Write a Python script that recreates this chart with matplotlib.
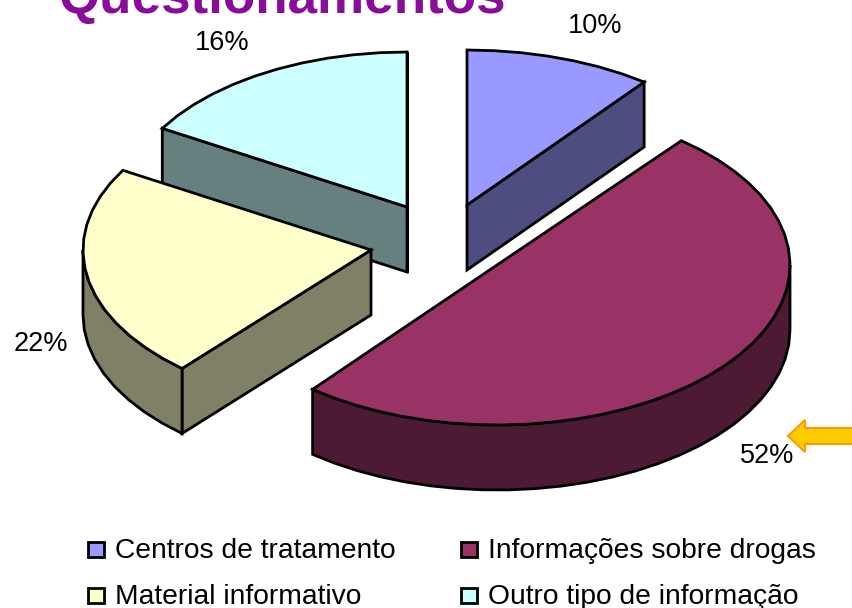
import numpy as np
import matplotlib
matplotlib.use("Agg")
import matplotlib.pyplot as plt
from matplotlib.patches import Polygon, FancyArrow

plt.rcParams['font.family'] = ['Liberation Sans', 'DejaVu Sans']

categorias = ["Centros de tratamento", "Informações sobre drogas",
              "Material informativo", "Outro tipo de informação"]
valores = [10, 52, 22, 16]
etiquetas = ["10%", "52%", "22%", "16%"]
cores_topo = ["#9999FF", "#993366", "#FFFFCC", "#CCFFFF"]
cores_lado = ["#4D4D80", "#4D1A33", "#808066", "#668080"]

# centro e raios de cada fatia explodida (em pixels da imagem)
centros = [(467, 205), (497, 265), (371, 250), (407, 207)]
raios_x = [291, 293, 288, 284]
raios_y = [155, 160, 157, 155]
# desvio de perspectiva do angulo inicial e final de cada fatia
ajuste = [(0, 1.5), (3, -4.2), (-2.2, -1.9), (-1.9, 0)]
# quais paredes retas aparecem: (borda inicial, borda final)
paredes_visiveis = [(False, True), (False, False), (True, False), (True, True)]
ALTURA = 65

pos_etiquetas = [(595, 26), (767, 456), (41, 344), (222, 43)]


def arco(i, a0, a1):
    # angulos em graus, sentido horario a partir do topo
    cx, cy = centros[i]
    n = max(int((a1 - a0) / 5), 2)
    t = np.radians(np.linspace(a0, a1, n + 1))
    return cx + raios_x[i] * np.sin(t), cy - raios_y[i] * np.cos(t)


fig = plt.figure(figsize=(8.52, 6.08), dpi=100)
ax = fig.add_axes([0, 0, 1, 1])
ax.set_xlim(0, 852)
ax.set_ylim(608, 0)
ax.axis("off")

ax.text(59, 13, "Questionamentos", color="#880E99", fontsize=38.2, fontweight="bold",
        ha="left", va="baseline")

limites = np.cumsum([0] + valores) * 3.6
for i in [3, 0, 2, 1]:
    cx, cy = centros[i]
    a0 = limites[i] + ajuste[i][0]
    a1 = limites[i + 1] + ajuste[i][1]
    x, y = arco(i, a0, a1)

    # paredes retas a partir do centro
    if paredes_visiveis[i][0]:
        ax.add_patch(Polygon([(cx, cy), (x[0], y[0]), (x[0], y[0] + ALTURA), (cx, cy + ALTURA)],
                             fc=cores_lado[i], ec="black", lw=2))
    if paredes_visiveis[i][1]:
        ax.add_patch(Polygon([(cx, cy), (x[-1], y[-1]), (x[-1], y[-1] + ALTURA), (cx, cy + ALTURA)],
                             fc=cores_lado[i], ec="black", lw=2))

    # parede curva externa, so a parte da frente (90 a 270 graus)
    f0, f1 = max(a0, 90), min(a1, 270)
    if f1 > f0:
        fx, fy = arco(i, f0, f1)
        pts = list(zip(fx, fy)) + list(zip(fx[::-1], fy[::-1] + ALTURA))
        ax.add_patch(Polygon(pts, fc=cores_lado[i], ec="black", lw=2))

    pts = [(cx, cy)] + list(zip(x, y))
    ax.add_patch(Polygon(pts, fc=cores_topo[i], ec="black", lw=2))

for (px, py), txt in zip(pos_etiquetas, etiquetas):
    ax.text(px, py, txt, fontsize=19.5, ha="center", va="center", color="black")

# seta
ax.add_patch(FancyArrow(853, 436, -65, 0, width=16, head_width=32, head_length=17,
                        length_includes_head=True, fc="#FFCC00", ec="#FF9900", lw=1.5))

# legenda
leg_x = [96, 469]
leg_y = [550, 596]
for i, nome in enumerate(categorias):
    lx = leg_x[i % 2]
    ly = leg_y[i // 2]
    ax.add_patch(Polygon([(lx - 8, ly - 8), (lx + 8, ly - 8), (lx + 8, ly + 7), (lx - 8, ly + 7)],
                         fc=cores_topo[i], ec="black", lw=2))
    ax.text(lx + 19, ly + 1, nome, fontsize=20.3, ha="left", va="center", color="black")

fig.savefig("out.png", dpi=100)
